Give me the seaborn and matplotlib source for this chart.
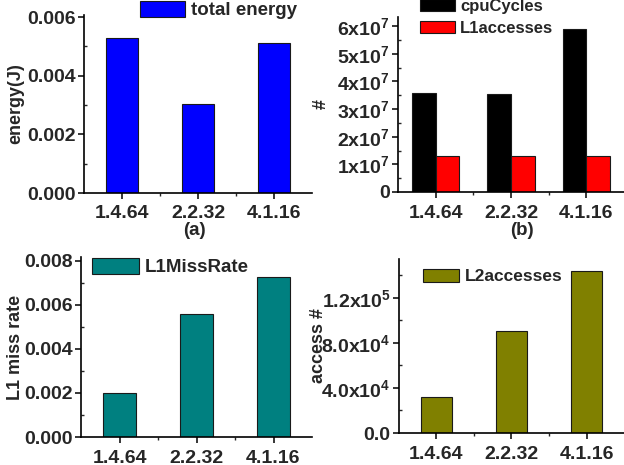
import numpy as np
import pandas as pd
import matplotlib
matplotlib.use("Agg")
import matplotlib.pyplot as plt
import seaborn as sns
from matplotlib.ticker import FixedLocator, MultipleLocator

# configurations (cache config names)
configs = ["1.4.64", "2.2.32", "4.1.16"]

# (a) total energy
total_energy = [0.00527, 0.00302, 0.00510]

# (b) cpu cycles and L1 accesses
cpu_cycles = [3.57e7, 3.54e7, 5.88e7]
l1_accesses = [1.30e7, 1.30e7, 1.30e7]

# (c) L1 miss rate
l1_miss_rate = [0.00198, 0.00558, 0.00727]

# (d) L2 accesses
l2_accesses = [3.17e4, 9.05e4, 1.437e5]

# tick labels
b_ticks = [0, 1e7, 2e7, 3e7, 4e7, 5e7, 6e7]
b_ticklabels = ["0"] + [f"{i}x10$^{{7}}$" for i in range(1, 7)]
d_ticks = [0, 4e4, 8e4, 1.2e5]
d_ticklabels = ["0.0", "4.0x10$^{4}$", "8.0x10$^{4}$", "1.2x10$^{5}$"]

sns.set_style("ticks")
plt.rcParams["font.family"] = ["Liberation Sans", "DejaVu Sans"]
plt.rcParams["font.weight"] = "bold"
plt.rcParams["mathtext.fontset"] = "custom"
plt.rcParams["mathtext.rm"] = "Liberation Sans:bold"
plt.rcParams["mathtext.bf"] = "Liberation Sans:bold"
plt.rcParams["mathtext.default"] = "rm"

W, H = 624, 465
fig = plt.figure(figsize=(W / 100, H / 100), dpi=100)

TICK_FS = 14
LABEL_FS = 13


def px_axes(left, right, bottom, top):
    # pixel box -> figure fraction
    return fig.add_axes([left / W, 1 - bottom / H, (right - left) / W, (bottom - top) / H])


def style_axes(ax):
    sns.despine(ax=ax)
    for s in ["left", "bottom"]:
        ax.spines[s].set_linewidth(1.2)
        ax.spines[s].set_color("black")
    ax.set_xlim(-0.5, 2.5)
    ax.xaxis.set_minor_locator(FixedLocator([0.5, 1.5]))
    ax.tick_params(axis="both", which="major", length=4, width=1.1, labelsize=TICK_FS, color="black", pad=2)
    ax.tick_params(axis="x", which="major", pad=5)
    ax.tick_params(axis="x", which="minor", length=2.5, width=1.0, direction="out")
    ax.tick_params(axis="y", which="minor", length=2.5, width=1.0, direction="in")
    ax.set_xlabel("")
    for lab in ax.get_xticklabels() + ax.get_yticklabels():
        lab.set_fontweight("bold")


def legend_at(ax, x, y, fontsize, hl, hh, pad=0.3, spacing=0.25):
    leg = ax.legend(loc="upper left", bbox_to_anchor=(x / W, 1 - y / H),
                    bbox_transform=fig.transFigure, frameon=False,
                    borderpad=0, borderaxespad=0, handlelength=hl, handleheight=hh,
                    handletextpad=pad, labelspacing=spacing,
                    prop={"size": fontsize, "weight": "bold"})
    return leg


edge = "#1a1a1a"

# (a) ------------------------------------------------------------
df_a = pd.DataFrame({"config": configs, "value": total_energy, "series": "total energy"})
ax_a = px_axes(84, 312, 193, 15)
sns.barplot(data=df_a, x="config", y="value", hue="series", palette=["#0000FF"], saturation=1,
            width=0.42, edgecolor=edge, linewidth=0.8, ax=ax_a)
ax_a.set_ylim(0, 0.00607)
ax_a.yaxis.set_major_locator(MultipleLocator(0.002))
ax_a.yaxis.set_minor_locator(MultipleLocator(0.001))
ax_a.yaxis.set_major_formatter(plt.FuncFormatter(lambda v, p: f"{v:.3f}"))
ax_a.set_ylabel("energy(J)", fontsize=LABEL_FS, fontweight="bold")
style_axes(ax_a)
ax_a.yaxis.set_label_coords(-0.26, 0.5)
legend_at(ax_a, 140, 1, 13.5, 2.4, 0.9)

# (b) ------------------------------------------------------------
df_b = pd.DataFrame({
    "config": configs * 2,
    "value": cpu_cycles + l1_accesses,
    "series": ["cpuCycles"] * 3 + ["L1accesses"] * 3,
})
ax_b = px_axes(398, 624, 192, 17)
sns.barplot(data=df_b, x="config", y="value", hue="series", palette=["#000000", "#FF0000"], saturation=1,
            width=0.63, edgecolor=edge, linewidth=0.8, ax=ax_b)
ax_b.set_ylim(0, 6.33e7)
ax_b.set_yticks(b_ticks)
ax_b.set_yticklabels(b_ticklabels)
ax_b.yaxis.set_minor_locator(MultipleLocator(0.5e7))
ax_b.set_ylabel("#", fontsize=LABEL_FS, fontweight="bold")
style_axes(ax_b)
ax_b.yaxis.set_label_coords(-0.30, 0.5)
legend_at(ax_b, 420, -1, 12, 2.1, 0.7, spacing=0.4)

# (c) ------------------------------------------------------------
df_c = pd.DataFrame({"config": configs, "value": l1_miss_rate, "series": "L1MissRate"})
ax_c = px_axes(81, 312, 437, 257)
sns.barplot(data=df_c, x="config", y="value", hue="series", palette=["#008080"], saturation=1,
            width=0.42, edgecolor=edge, linewidth=0.8, ax=ax_c)
ax_c.set_ylim(0, 0.00818)
ax_c.yaxis.set_major_locator(MultipleLocator(0.002))
ax_c.yaxis.set_minor_locator(MultipleLocator(0.001))
ax_c.yaxis.set_major_formatter(plt.FuncFormatter(lambda v, p: f"{v:.3f}"))
ax_c.set_ylabel("L1 miss rate", fontsize=LABEL_FS, fontweight="bold")
style_axes(ax_c)
ax_c.yaxis.set_label_coords(-0.245, 0.5)
legend_at(ax_c, 92, 258, 13.5, 2.5, 0.9)

# (d) ------------------------------------------------------------
df_d = pd.DataFrame({"config": configs, "value": l2_accesses, "series": "L2accesses"})
ax_d = px_axes(399, 624, 433, 259)
sns.barplot(data=df_d, x="config", y="value", hue="series", palette=["#808000"], saturation=1,
            width=0.42, edgecolor=edge, linewidth=0.8, ax=ax_d)
ax_d.set_ylim(0, 1.546e5)
ax_d.set_yticks(d_ticks)
ax_d.set_yticklabels(d_ticklabels)
ax_d.yaxis.set_minor_locator(MultipleLocator(2e4))
ax_d.set_ylabel("access #", fontsize=LABEL_FS, fontweight="bold")
style_axes(ax_d)
ax_d.yaxis.set_label_coords(-0.32, 0.5)
legend_at(ax_d, 423, 269, 12.5, 2.1, 0.75)

# sub-captions
fig.text(194 / W, 1 - 230 / H, "(a)", ha="center", va="center", fontsize=13.5, fontweight="bold")
fig.text(522 / W, 1 - 230 / H, "(b)", ha="center", va="center", fontsize=13.5, fontweight="bold")

fig.savefig("out.png", dpi=100)
